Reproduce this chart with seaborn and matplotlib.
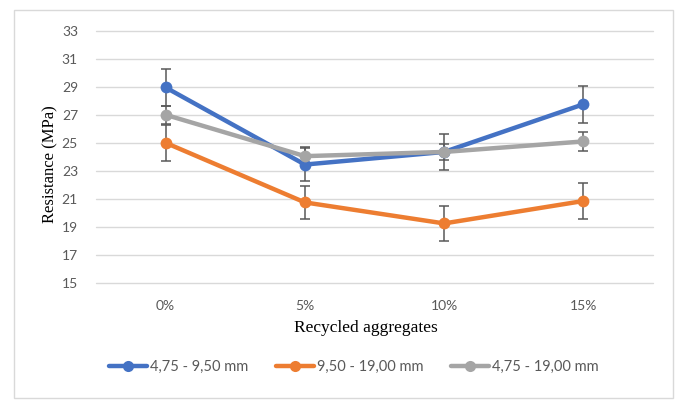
import numpy as np
import pandas as pd
import matplotlib
matplotlib.use("Agg")
import matplotlib.pyplot as plt
import seaborn as sns
from matplotlib.patches import Rectangle
from matplotlib.lines import Line2D

categories = ["0%", "5%", "10%", "15%"]
series_names = ["4,75 - 9,50 mm", "9,50 - 19,00 mm", "4,75 - 19,00 mm"]
s1_values = [28.95, 23.45, 24.35, 27.75]
s1_err = [1.30, 1.20, 1.30, 1.33]
s2_values = [25.00, 20.75, 19.25, 20.85]
s2_err = [1.30, 1.20, 1.25, 1.26]
s3_values = [27.00, 24.05, 24.35, 25.10]
s3_err = [0.65, 0.65, 0.60, 0.67]
y_ticks = [15, 17, 19, 21, 23, 25, 27, 29, 31, 33]

colors = ["#4472C4", "#ED7D31", "#A5A5A5"]

sns.set_theme(style="white")
plt.rcParams["font.family"] = ["Lato", "DejaVu Sans"]

vals = [s1_values, s2_values, s3_values]
errs = [s1_err, s2_err, s3_err]
rows = []
for name, v in zip(series_names, vals):
    for i, c in enumerate(categories):
        rows.append({"x": i, "cat": c, "value": v[i], "series": name})
df = pd.DataFrame(rows)

fig = plt.figure(figsize=(6.78, 4.01), dpi=100)
fig.patch.set_facecolor("white")
W, H = 678, 401
ax = fig.add_axes([96 / W, 1 - 283 / H, (653 - 96) / W, (283 - 30.7) / H])

# gridlines
for t in y_ticks:
    ax.axhline(t, color="#D9D9D9", lw=1.0, zorder=0, clip_on=False)

# error bars
for v, e in zip(vals, errs):
    ax.errorbar(range(len(categories)), v, yerr=e, fmt="none", ecolor="#595959",
                elinewidth=1.1, capsize=3.5, capthick=1.1, zorder=2, clip_on=False)

sns.lineplot(data=df, x="x", y="value", hue="series", palette=colors,
             marker="o", markersize=8.5, markeredgewidth=0, linewidth=3.2,
             ax=ax, legend=False, zorder=3, clip_on=False)

ax.set_xlim(-0.5, 3.5)
ax.set_ylim(15, 33)
ax.set_xticks(range(len(categories)))
ax.set_xticklabels(categories)
ax.set_yticks(y_ticks)
ax.set_yticklabels([str(t) for t in y_ticks])
ax.tick_params(axis="both", length=0, labelsize=10, colors="#595959")
ax.tick_params(axis="y", pad=13)
ax.tick_params(axis="x", pad=12)
for s in ax.spines.values():
    s.set_visible(False)

ax.set_xlabel("Recycled aggregates", family=["Liberation Serif"], fontsize=12.5,
              color="black")
ax.set_ylabel("Resistance (MPa)", family=["Liberation Serif"], fontsize=12,
              color="black")
ax.xaxis.set_label_coords(0.485, -(320 - 283) / 252.3)
ax.yaxis.set_label_coords(-(96 - 58) / 557, 0.47)

handles = [Line2D([0], [0], color=c, lw=3.2, marker="o", markersize=8,
                  markeredgewidth=0) for c in colors]
leg = fig.legend(handles, series_names, loc="center", bbox_to_anchor=(354 / W, 1 - 367 / H),
                 ncol=3, frameon=False, fontsize=10.5, handlelength=2.6,
                 columnspacing=1.9, handletextpad=0.2)
for t in leg.get_texts():
    t.set_color("#595959")

fig.patches.append(Rectangle((14 / W, 1 - 398 / H), (673 - 14) / W, (398 - 10) / H,
                             transform=fig.transFigure, fill=False,
                             edgecolor="#D9D9D9", lw=1.0))

fig.savefig("out.png", dpi=100, facecolor="white")
